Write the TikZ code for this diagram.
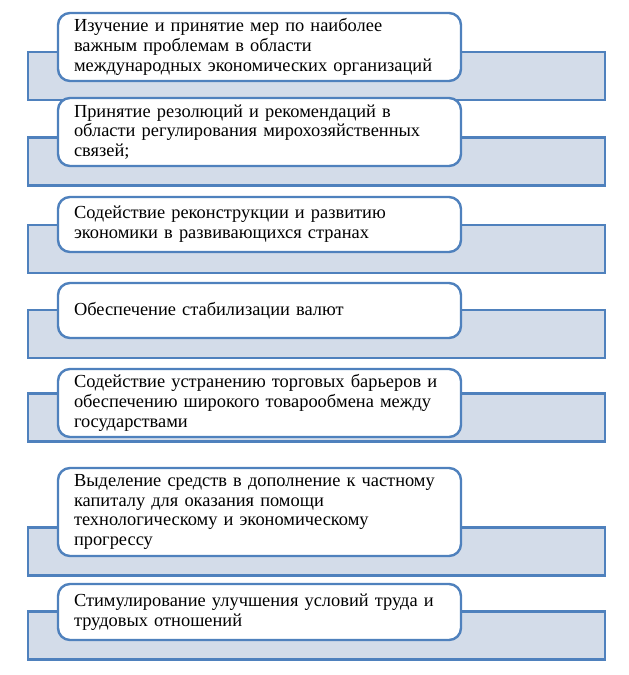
\documentclass[tikz,border=0pt]{standalone}
\usepackage{fontspec}
\setmainfont{Liberation Serif}
\usepackage{xcolor}
\usepackage{tikz}

\definecolor{frameblue}{HTML}{4F81BD}
\definecolor{backfill}{HTML}{D3DCE9}

\tikzset{
  backbar/.style={draw=frameblue, line width=2.8pt, fill=backfill, minimum width=577pt, minimum height=48pt, inner sep=0pt},
  itembox/.style={draw=frameblue, line width=2.4pt, fill=white, rounded corners=12pt, minimum width=403pt, text width=371pt, inner xsep=16pt, inner ysep=0pt, align=left, font=\fontsize{18.4}{19.8}\selectfont\rmfamily}
}

\begin{document}
\begin{tikzpicture}[x=1pt, y=-1pt]
\useasboundingbox (0,0) rectangle (629,675);
% back bars
\node[backbar] (Bar1) at (316.5,076.0) {};
\node[backbar] (Bar2) at (316.5,161.5) {};
\node[backbar] (Bar3) at (316.5,249.0) {};
\node[backbar] (Bar4) at (316.5,334.0) {};
\node[backbar] (Bar5) at (316.5,417.5) {};
\node[backbar] (Bar6) at (316.5,551.5) {};
\node[backbar] (Bar7) at (316.5,635.5) {};
% boxes with text
\node[itembox, minimum height=68pt] (Item1) at (259.5,047.0) {Изучение и принятие мер по наиболее\\важным проблемам в области\\международных экономических организаций};
\node[itembox, minimum height=68pt] (Item2) at (259.5,132.0) {Принятие резолюций и рекомендаций в\\области регулирования мирохозяйственных\\связей;};
\node[itembox, minimum height=55pt] (Item3) at (259.5,224.5) {Содействие реконструкции и развитию\\экономики в развивающихся странах};
\node[itembox, minimum height=55pt] (Item4) at (259.5,310.5) {Обеспечение стабилизации валют};
\node[itembox, minimum height=68pt] (Item5) at (259.5,403.0) {Содействие устранению торговых барьеров и\\обеспечению широкого товарообмена между\\государствами};
\node[itembox, minimum height=88pt] (Item6) at (259.5,512.0) {Выделение средств в дополнение к частному\\капиталу для оказания помощи\\технологическому и экономическому\\прогрессу};
\node[itembox, minimum height=56pt] (Item7) at (259.5,612.0) {Стимулирование улучшения условий труда и\\трудовых отношений};
\end{tikzpicture}
\end{document}
